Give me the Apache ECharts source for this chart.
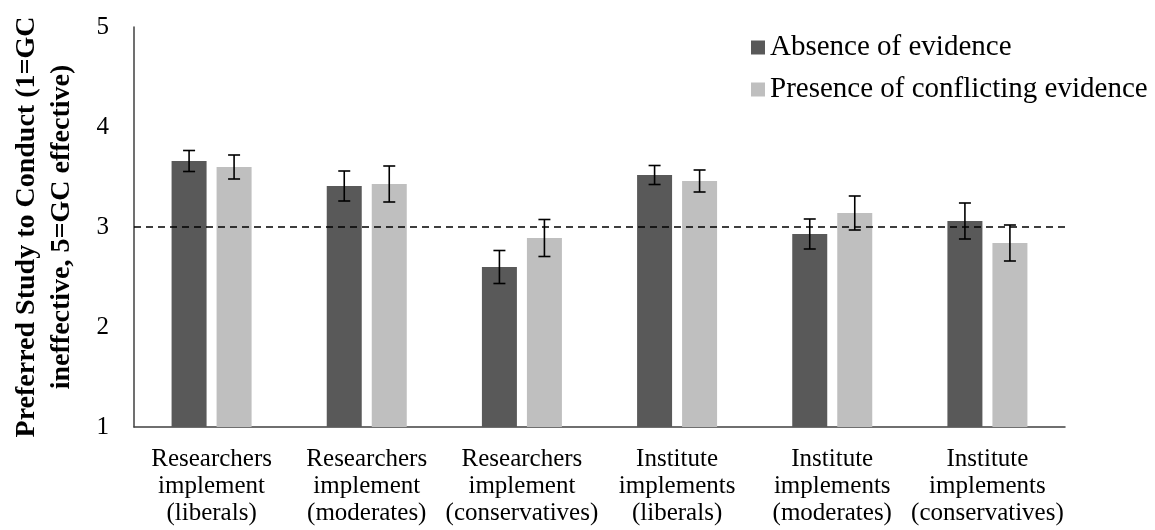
<!DOCTYPE html>
<html>
<head>
<meta charset="utf-8">
<script src="https://cdn.jsdelivr.net/npm/echarts@6/dist/echarts.min.js"></script>
<style>
html,body{margin:0;padding:0;background:#fff;}
#chart{width:1155px;height:530px;}
</style>
</head>
<body>
<div id="chart"></div>
<script>
// ---- data ----
const categories = [
  'Researchers\nimplement\n(liberals)',
  'Researchers\nimplement\n(moderates)',
  'Researchers\nimplement\n(conservatives)',
  'Institute\nimplements\n(liberals)',
  'Institute\nimplements\n(moderates)',
  'Institute\nimplements\n(conservatives)'
];
const seriesNames = ['Absence of evidence', 'Presence of conflicting evidence'];
const absence = [3.66, 3.41, 2.60, 3.52, 2.93, 3.06];
const absenceErr = [0.105, 0.15, 0.165, 0.095, 0.15, 0.18];
const presence = [3.60, 3.43, 2.89, 3.46, 3.14, 2.84];
const presenceErr = [0.12, 0.18, 0.185, 0.11, 0.17, 0.18];
const yTicks = [1, 2, 3, 4, 5];
const referenceValue = 3;
const yTitle = 'Preferred Study to Conduct (1=GC\nineffective, 5=GC effective)';

// ---- style ----
const FONT = '"Liberation Serif", "Times New Roman", serif';
const BAR_W = 35;
const GAP_PX = 10;
const colors = ['#595959', '#bfbfbf'];

function errorSeries(values, errs, sideSign) {
  const data = values.map((v, i) => [i, v - errs[i], v + errs[i]]);
  return {
    type: 'custom',
    silent: true,
    z: 5,
    data: data,
    renderItem: function (params, api) {
      const xi = api.value(0);
      const lo = api.coord([xi, api.value(1)]);
      const hi = api.coord([xi, api.value(2)]);
      const x = lo[0] + sideSign * (BAR_W + GAP_PX) / 2;
      const cap = 6;
      const st = { stroke: '#000', lineWidth: 1.6 };
      return {
        type: 'group',
        children: [
          { type: 'line', shape: { x1: x, y1: hi[1], x2: x, y2: lo[1] }, style: st },
          { type: 'line', shape: { x1: x - cap, y1: hi[1], x2: x + cap, y2: hi[1] }, style: st },
          { type: 'line', shape: { x1: x - cap, y1: lo[1], x2: x + cap, y2: lo[1] }, style: st }
        ]
      };
    }
  };
}

const chart = echarts.init(document.getElementById('chart'), null, { renderer: 'canvas' });
chart.setOption({
  animation: false,
  backgroundColor: '#ffffff',
  grid: { left: 134, right: 90, top: 27, bottom: 103, containLabel: false },
  legend: {
    data: seriesNames,
    orient: 'vertical',
    left: 751,
    top: 33,
    padding: 0,
    itemWidth: 14,
    itemHeight: 14,
    itemGap: 13,
    icon: 'rect',
    textStyle: { fontFamily: FONT, fontSize: 29, color: '#000', lineHeight: 28 }
  },
  xAxis: {
    type: 'category',
    data: categories,
    axisLine: { lineStyle: { color: '#404040', width: 1.5 } },
    axisTick: { show: false },
    axisLabel: {
      interval: 0,
      fontFamily: FONT,
      fontSize: 25,
      lineHeight: 27,
      color: '#000',
      margin: 19
    }
  },
  yAxis: {
    type: 'value',
    min: yTicks[0],
    max: yTicks[yTicks.length - 1],
    interval: 1,
    axisLine: { show: true, lineStyle: { color: '#404040', width: 1.5 } },
    axisTick: { show: false },
    splitLine: { show: false },
    axisLabel: { fontFamily: FONT, fontSize: 25, color: '#000', margin: 25 },
    name: yTitle,
    nameLocation: 'middle',
    nameGap: 55,
    nameTextStyle: { fontFamily: FONT, fontSize: 28, fontWeight: 'bold', color: '#000', lineHeight: 35, align: 'center' }
  },
  series: [
    {
      name: seriesNames[0],
      type: 'bar',
      data: absence,
      barWidth: BAR_W,
      barGap: (GAP_PX / BAR_W * 100).toFixed(1) + '%',
      itemStyle: { color: colors[0] },
      markLine: {
        silent: true,
        symbol: 'none',
        label: { show: false },
        lineStyle: { color: '#000', type: [7, 5], width: 1.6 },
        data: [{ yAxis: referenceValue }]
      }
    },
    {
      name: seriesNames[1],
      type: 'bar',
      data: presence,
      barWidth: BAR_W,
      barGap: (GAP_PX / BAR_W * 100).toFixed(1) + '%',
      itemStyle: { color: colors[1] }
    },
    errorSeries(absence, absenceErr, -1),
    errorSeries(presence, presenceErr, 1)
  ]
});
</script>
</body>
</html>
